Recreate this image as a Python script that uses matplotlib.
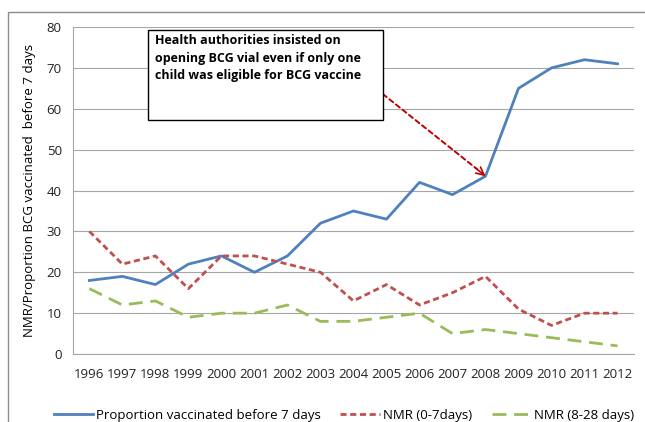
import numpy as np
import matplotlib.pyplot as plt
from matplotlib.patches import Rectangle

years = list(range(1996, 2013))
proportion = [18, 19, 17, 22, 24, 20, 24, 32, 35, 33, 42, 39, 43.5, 65, 70, 72, 71]
nmr_early = [30, 22, 24, 16, 24, 24, 22, 20, 13, 17, 12, 15, 19, 11, 7, 10, 10]
nmr_late = [16, 12, 13, 9, 10, 10, 12, 8, 8, 9, 10, 5, 6, 5, 4, 3, 2]

note = 'Health authorities insisted on\nopening BCG vial even if only one\nchild was eligible for BCG vaccine'

plt.rcParams['font.family'] = ['Open Sans', 'DejaVu Sans']

fig = plt.figure(figsize=(6.45, 4.22), dpi=100)
ax = fig.add_axes([0.113, 0.161, 0.870, 0.775])

# outer chart frame
fig.patches.append(Rectangle((0.012, -0.05), 1.1, 1.022, transform=fig.transFigure,
                             fill=False, edgecolor='#8c8c8c', lw=1))

ax.plot(years, proportion, color='#4F81BD', lw=2, label='Proportion vaccinated before 7 days')
ax.plot(years, nmr_early, color='#C0504D', lw=2, ls=(0, (2.2, 1.3)), label='NMR (0-7days)')
ax.plot(years, nmr_late, color='#9BBB59', lw=2, ls=(0, (5, 2.8)), label='NMR (8-28 days)')

ax.set_xlim(1995.5, 2012.5)
ax.set_ylim(0, 80)
ax.set_yticks(range(0, 81, 10))
ax.set_xticks(years)
ax.tick_params(axis='x', length=0, labelsize=9.5, colors='#222222', pad=10)
ax.tick_params(axis='y', length=0, labelsize=9.5, colors='#222222', pad=8)
ax.grid(axis='y', color='#a6a6a6', lw=0.8)
ax.set_axisbelow(True)
for side in ['top', 'right']:
    ax.spines[side].set_visible(False)
ax.spines['bottom'].set_color('#a6a6a6')
ax.spines['left'].set_color('#a6a6a6')
ax.set_ylabel('NMR/Proportion BCG vaccinated  before 7 days', fontsize=9.5, labelpad=8)

# text box with arrow
ax.add_patch(Rectangle((1997.77, 57.2), 7.12, 22.1, fc='white', ec='black', lw=1, zorder=5))
ax.text(1998.0, 78.2, note, fontsize=9, fontweight='bold', va='top', ha='left',
        linespacing=1.45, zorder=6)
ax.annotate('', xy=(2007.75, 45.2), xytext=(2004.89, 63.6),
            arrowprops=dict(arrowstyle='-', color='#C00000', lw=1.4, ls=(0, (2.5, 1.8)),
                            shrinkA=0, shrinkB=0))
ax.annotate('', xy=(2008, 43.5), xytext=(2007.7, 45.5),
            arrowprops=dict(arrowstyle='->', color='#C00000', lw=1.2,
                            mutation_scale=14, shrinkA=0, shrinkB=0))

fig.legend(loc='center', bbox_to_anchor=(0.533, 0.016), ncol=3, frameon=False,
           fontsize=9.5, handlelength=3.0, handletextpad=0.2, columnspacing=1.5)

fig.savefig('out.png', dpi=100)
